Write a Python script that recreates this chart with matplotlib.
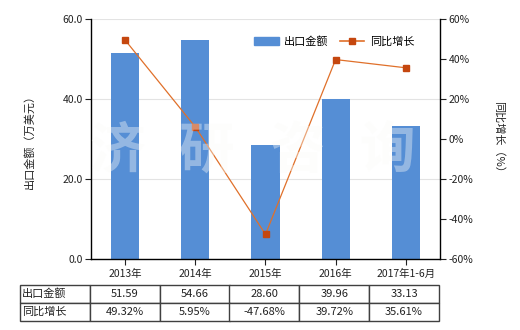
import numpy as np
import matplotlib.pyplot as plt
from matplotlib.patches import Patch
from matplotlib.lines import Line2D

plt.rcParams['font.family'] = ['Noto Sans CJK SC', 'DejaVu Sans']

categories = ['2013年', '2014年', '2015年', '2016年', '2017年1-6月']
export_value = [51.59, 54.66, 28.60, 39.96, 33.13]
growth = [49.32, 5.95, -47.68, 39.72, 35.61]
value_labels = ['51.59', '54.66', '28.60', '39.96', '33.13']
growth_labels = ['49.32%', '5.95%', '-47.68%', '39.72%', '35.61%']

bar_color = '#558ed5'
line_color = '#e0702a'
marker_color = '#c5470f'
text_color = '#222222'

W, H = 520, 330
fig = plt.figure(figsize=(W / 100, H / 100), dpi=100)
ax = fig.add_axes([91 / W, (H - 259) / H, 349 / W, 240 / H])
ax2 = ax.twinx()

x = np.arange(len(categories))
ax.bar(x, export_value, width=0.4, color=bar_color, zorder=2)
ax.set_xlim(-0.49, 4.49)
ax.set_ylim(0, 60)
ax.set_yticks([0, 20, 40, 60])
ax.set_yticklabels(['%.1f' % v for v in [0, 20, 40, 60]])
ax.grid(axis='y', color='#e3e3e3', linewidth=0.8, zorder=0)
ax.set_axisbelow(True)
ax.set_xticks(x)
ax.set_xticklabels(categories)

ax2.plot(x, growth, color=line_color, linewidth=0.9, marker='s', markersize=4,
         markerfacecolor=marker_color, markeredgecolor=marker_color, zorder=3)
ax2.set_ylim(-60, 60)
ax2.set_yticks(np.arange(-60, 61, 20))
ax2.set_yticklabels(['%d%%' % v for v in np.arange(-60, 61, 20)])

for a in (ax, ax2):
    a.tick_params(labelsize=7.5, colors=text_color, length=4, width=0.8, pad=2)
    a.spines['top'].set_visible(False)
ax.spines['right'].set_visible(False)
ax2.spines['left'].set_visible(False)
ax2.spines['bottom'].set_visible(False)
ax.spines['left'].set_linewidth(1)
ax2.spines['right'].set_linewidth(1)
ax.spines['bottom'].set_linewidth(1)
ax.tick_params(axis='x', pad=3)

ax.set_ylabel('出口金额（万美元）', fontsize=8, color=text_color, labelpad=20)
ax2.set_ylabel('同比增长（%）', fontsize=8, color=text_color, rotation=270, labelpad=22)

# watermark
for i, ch in enumerate('济研咨询'):
    fig.text((117 + i * 90) / W, (H - 152) / H, ch, fontsize=40, fontweight='bold',
             color='#fbfbf8', alpha=0.38, ha='center', va='center', zorder=10)

# legend
handles = [Patch(color=bar_color),
           Line2D([0], [0], color=line_color, marker='s', markersize=4,
                  markerfacecolor=marker_color, markeredgecolor=marker_color, linewidth=1.2)]
ax2.legend(handles, ['出口金额', '同比增长'], loc='upper right', bbox_to_anchor=(0.955, 0.97),
           ncol=2, frameon=False, fontsize=8, handlelength=2.2, columnspacing=1.0,
           handletextpad=0.5)

# data table
cell_text = [['出口金额'] + value_labels, ['同比增长'] + growth_labels]
tab = ax.table(cellText=cell_text, bbox=[(20 - 91) / 349, (259 - 321) / 240, 419 / 349, 36 / 240],
               cellLoc='center')
tab.auto_set_font_size(False)
tab.set_fontsize(8)
for (r, c), cell in tab.get_celld().items():
    cell.set_edgecolor('#404040')
    cell.set_linewidth(1)
    cell.get_text().set_color(text_color)
    if c == 0:
        cell.get_text().set_ha('left')
        cell._loc = 'left'
        cell.PAD = 0.03

fig.savefig('out.png', dpi=100)
